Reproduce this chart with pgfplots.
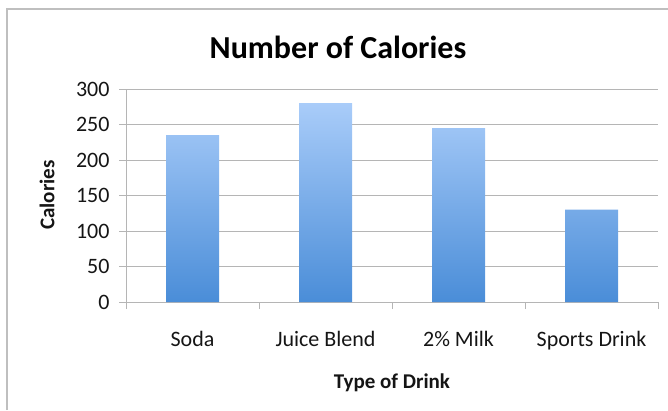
\documentclass[border=0pt]{standalone}
\usepackage{fontspec}
\setmainfont{Carlito}
\usepackage{pgfplots}
\pgfplotsset{compat=1.18}
\definecolor{barTop}{HTML}{A9CCF9}
\definecolor{barBot}{HTML}{4A8DD8}
\definecolor{gridc}{HTML}{B5B5B5}
\definecolor{txt}{HTML}{151515}
\begin{document}
\begin{tikzpicture}[x=1pt,y=1pt]
\useasboundingbox (0,0) rectangle (668,410);
\draw[gray!50, line width=1.5pt] (7,0) -- (7,401) -- (668,401);
\begin{axis}[
  at={(126pt,108pt)}, anchor=south west,
  scale only axis, width=532pt, height=213pt,
  xmin=-0.5, xmax=3.5, ymin=0, ymax=300,
  ybar, bar width=53pt,
  ytick={0,50,...,300},
  xtick={-0.5,0.5,1.5,2.5,3.5},
  xticklabels={Soda, Juice Blend, 2\% Milk, Sports Drink},
  x tick label as interval,
  axis x line*=bottom, axis y line*=left,
  axis line style={gridc, line width=1pt, -},
  tick align=outside, major tick length=7pt,
  tick style={gridc, line width=1pt},
  ymajorgrids, grid style={gridc, line width=1pt},
  /pgf/number format/assume math mode=true,
  ticklabel style={font=\fontsize{22}{26}\selectfont, text=txt},
  xticklabel style={yshift=-19pt},
  yticklabel style={xshift=-6pt},
]
\addplot[draw=none, top color=barTop, bottom color=barBot] coordinates {(0,235) (1,280) (2,245) (3,130)};
\end{axis}
\node[font=\bfseries\fontsize{32}{38}\selectfont, text=black] at (338,363) {Number of Calories};
\node[rotate=90, font=\bfseries\fontsize{21}{25}\selectfont, text=txt] at (47,215) {Calories};
\node[font=\bfseries\fontsize{21}{25}\selectfont, text=txt] at (392,27) {Type of Drink};
\end{tikzpicture}
\end{document}
